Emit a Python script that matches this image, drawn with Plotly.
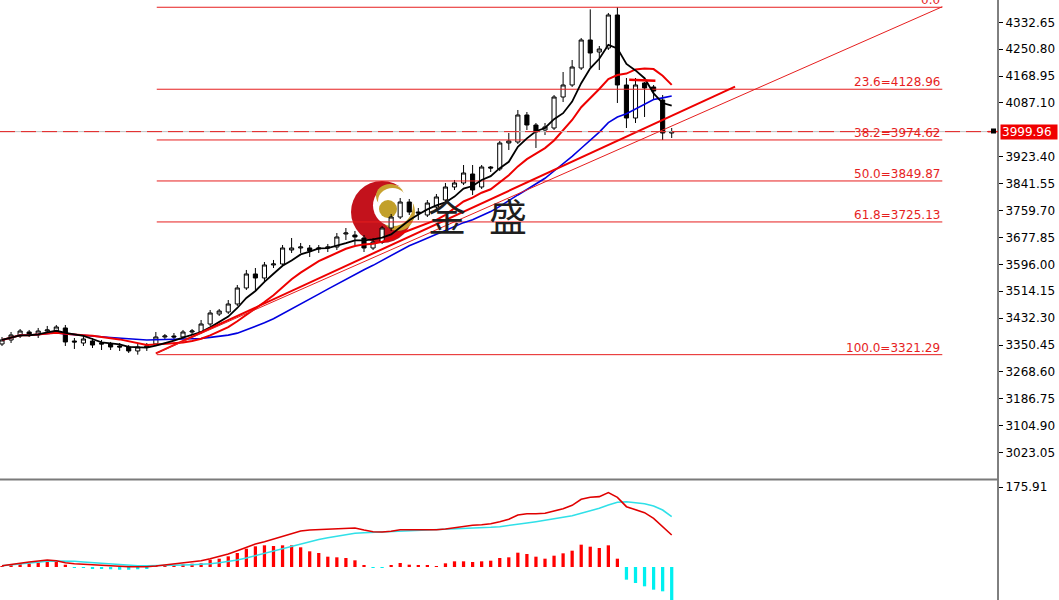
import plotly.graph_objects as go
import pandas as pd

# ---------------- data ----------------
opens = [3353.8, 3366.0, 3378.1, 3390.3, 3381.2, 3393.3, 3393.3, 3402.5, 3362.9, 3356.8,
         3362.9, 3356.8, 3353.8, 3347.7, 3344.6, 3332.5, 3344.6, 3353.8, 3375.1, 3378.1,
         3375.1, 3390.3, 3390.3, 3414.6, 3445.1, 3451.1, 3475.5, 3524.2, 3566.8, 3554.6,
         3594.2, 3597.2, 3639.8, 3645.9, 3645.9, 3642.8, 3645.9, 3648.9, 3688.5, 3685.4,
         3676.3, 3645.9, 3664.1, 3706.7, 3740.2, 3785.8, 3755.4, 3746.3, 3770.6, 3791.9,
         3831.5, 3843.7, 3871.0, 3831.5, 3892.3, 3886.3, 3965.4, 3968.4, 4050.6, 4020.1,
         4004.9, 4011.0, 4105.3, 4141.9, 4193.6, 4278.8, 4242.3, 4254.4, 4354.9, 4141.9,
         4041.4, 4148.0, 4135.8, 4096.2, 3995.8]
highs = [3375.1, 3390.3, 3399.4, 3396.4, 3402.5, 3408.6, 3411.6, 3411.6, 3372.0, 3378.1,
         3372.0, 3366.0, 3359.9, 3356.8, 3350.7, 3353.8, 3356.8, 3390.3, 3384.2, 3387.2,
         3396.4, 3399.4, 3426.8, 3457.2, 3460.3, 3487.6, 3533.3, 3579.0, 3585.0, 3603.3,
         3609.4, 3655.0, 3676.3, 3661.1, 3655.0, 3655.0, 3658.1, 3691.5, 3706.7, 3697.6,
         3685.4, 3676.3, 3712.8, 3749.3, 3798.0, 3795.0, 3767.6, 3791.9, 3810.2, 3843.7,
         3852.8, 3898.4, 3898.4, 3898.4, 3895.3, 3971.5, 3995.8, 4065.8, 4059.7, 4026.2,
         4026.2, 4111.4, 4181.4, 4217.9, 4284.9, 4372.0, 4260.5, 4361.0, 4378.45, 4163.2,
         4163.2, 4151.0, 4141.9, 4111.4, 4011.0]
lows = [3347.7, 3356.8, 3372.0, 3375.1, 3372.0, 3384.2, 3387.2, 3347.7, 3338.6, 3347.7,
        3341.6, 3335.5, 3335.5, 3332.5, 3326.4, 3321.29, 3332.5, 3347.7, 3366.0, 3366.0,
        3369.0, 3381.2, 3384.2, 3408.6, 3439.0, 3445.1, 3469.4, 3518.1, 3518.1, 3542.4,
        3585.0, 3591.1, 3630.7, 3630.7, 3618.5, 3630.7, 3633.7, 3639.8, 3670.2, 3655.0,
        3633.7, 3639.8, 3658.1, 3697.6, 3734.1, 3746.3, 3731.1, 3740.2, 3764.6, 3785.8,
        3822.4, 3837.6, 3807.2, 3825.4, 3877.1, 3880.2, 3944.1, 3962.3, 4004.9, 3950.2,
        3989.7, 4004.9, 4090.1, 4135.8, 4187.5, 4196.6, 4187.5, 4248.4, 4087.1, 4011.0,
        4026.2, 4044.5, 4096.2, 3974.5, 3980.6]
closes = [3366.0, 3381.2, 3393.3, 3381.2, 3393.3, 3396.4, 3405.5, 3359.9, 3359.9, 3369.0,
          3350.7, 3353.8, 3344.6, 3344.6, 3332.5, 3344.6, 3347.7, 3375.1, 3378.1, 3375.1,
          3390.3, 3393.3, 3414.6, 3448.1, 3454.2, 3475.5, 3524.2, 3566.8, 3554.6, 3594.2,
          3597.2, 3645.9, 3645.9, 3648.9, 3636.8, 3645.9, 3648.9, 3679.4, 3691.5, 3679.4,
          3645.9, 3664.1, 3706.7, 3740.2, 3785.8, 3755.4, 3752.4, 3782.8, 3801.1, 3831.5,
          3843.7, 3874.1, 3822.4, 3892.3, 3889.3, 3965.4, 3971.5, 4050.6, 4020.1, 3998.9,
          4014.1, 4105.3, 4141.9, 4196.6, 4278.8, 4239.2, 4251.4, 4354.9, 4141.9, 4041.4,
          4141.9, 4132.7, 4123.6, 3995.8, 3999.96]

macd_main = [2.9, 5.9, 8.8, 11.0, 13.2, 15.4, 13.9, 9.5, 7.3, 5.9,
             4.4, 2.9, 2.2, 1.5, 0.7, 0.0, 0.7, 2.2, 4.4, 6.6,
             8.1, 11.0, 13.9, 18.3, 22.7, 28.6, 35.9, 43.3, 50.6, 55.7,
             61.6, 68.2, 74.1, 79.2, 81.4, 82.1, 82.9, 83.6, 85.1, 85.8,
             81.4, 77.7, 77.0, 78.5, 82.1, 82.1, 81.4, 81.4, 82.1, 83.6,
             86.5, 90.2, 91.7, 93.1, 95.3, 99.7, 104.9, 114.4, 117.3, 117.3,
             118.1, 123.2, 128.3, 135.7, 148.9, 153.3, 154.8, 163.6, 153.3, 132.7,
             126.9, 119.5, 107.1, 88.7, 70.4]
macd_signal = [2.9, 5.1, 7.3, 9.5, 11.0, 12.5, 13.2, 13.2, 12.5, 11.0,
               9.5, 8.1, 6.6, 5.1, 4.4, 2.9, 2.9, 2.9, 2.9, 3.7,
               4.4, 5.1, 5.9, 7.3, 9.5, 11.7, 15.4, 19.8, 24.9, 30.1,
               35.2, 40.9, 46.1, 51.2, 56.3, 60.7, 64.4, 68.1, 71.1, 74.1,
               75.5, 76.3, 77.0, 77.7, 78.5, 79.2, 79.9, 80.7, 81.4, 82.1,
               82.9, 83.6, 85.1, 85.8, 87.3, 88.7, 90.9, 93.9, 96.8, 99.7,
               102.7, 105.6, 109.3, 112.9, 118.1, 123.2, 129.1, 136.4, 142.3, 143.7,
               142.3, 139.3, 134.2, 125.4, 110.8]
macd_hist = [2.0, 3.0, 6.6, 8.1, 9.5, 12.5, 11.0, 5.1, -1.5, -2.2,
             -3.0, -4.0, -5.0, -6.0, -6.0, -5.0, -3.0, 1.5, 2.9, 4.4,
             5.9, 7.3, 8.1, 16.1, 18.3, 23.5, 30.8, 40.3, 45.5, 47.7,
             46.2, 47.7, 47.7, 43.3, 34.5, 30.8, 22.7, 21.3, 19.8, 14.7,
             2.9, -2.2, -2.0, 2.9, 8.8, 5.1, 3.7, 2.9, 1.5, 8.1,
             12.5, 12.5, 11.0, 12.5, 13.9, 19.8, 21.3, 31.5, 28.6, 22.7,
             18.3, 24.9, 30.1, 35.9, 49.1, 44.7, 41.8, 47.7, 18.3, -27.9,
             -35.2, -42.5, -49.9, -53.5, -75.5]

price_ticks = [4332.65, 4250.80, 4168.95, 4087.10, 3923.40, 3841.55, 3759.70,
               3677.85, 3596.00, 3514.15, 3432.30, 3350.45, 3268.60, 3186.75, 3104.90, 3023.05]
macd_ticks = [175.91]

fib_labels = ['0.0', '23.6', '38.2', '50.0', '61.8', '100.0']
fib_values = [4378.45, 4128.96, 3974.62, 3849.87, 3725.13, 3321.29]
fib_x = [17.1, 103.9]

trend_thick_x = [17.0, 81.0]
trend_thick_y = [3325.0, 4137.0]
trend_thin_x = [17.0, 103.9]
trend_thin_y = [3325.0, 4380.0]
mark_x = [69.3, 72.2]
mark_y = [4158.0, 4155.0]

last_price = 3999.96

# ---------------- figure ----------------
W, H = 1059, 600
PW = 998  # plot width in px
RED = 'rgb(230,30,30)'


def px(xp):
    return xp / PW


def py(yp):
    return 1 - yp / H


x = list(range(len(closes)))
s = pd.Series(closes)
ma5 = s.rolling(5, min_periods=1).mean()
ma10 = s.rolling(10, min_periods=1).mean()
ma20 = s.rolling(20, min_periods=1).mean()

fig = go.Figure()
fig.add_trace(go.Candlestick(
    x=x, open=opens, high=highs, low=lows, close=closes,
    increasing=dict(line=dict(color='black', width=1), fillcolor='white'),
    decreasing=dict(line=dict(color='black', width=1), fillcolor='black'),
    whiskerwidth=0, showlegend=False, hoverinfo='skip', xaxis='x', yaxis='y'))

# fib lines
for lab, lv in zip(fib_labels, fib_values):
    fig.add_trace(go.Scatter(x=fib_x, y=[lv, lv], mode='lines',
                             line=dict(color=RED, width=1), showlegend=False, hoverinfo='skip'))
    txt = lab if lab == '0.0' else f'{lab}={lv:.2f}'
    fig.add_annotation(x=fib_x[1], y=lv, xref='x', yref='y', text=txt, showarrow=False,
                       xanchor='right', yanchor='bottom', yshift=-2,
                       font=dict(family='DejaVu Sans', size=12, color=RED))

fig.add_trace(go.Scatter(x=x, y=ma20, mode='lines', line=dict(color='#0000e0', width=1.6),
                         showlegend=False, hoverinfo='skip'))
fig.add_trace(go.Scatter(x=x, y=ma10, mode='lines', line=dict(color='#ee0000', width=2),
                         showlegend=False, hoverinfo='skip'))
fig.add_trace(go.Scatter(x=x, y=ma5, mode='lines', line=dict(color='black', width=1.8),
                         showlegend=False, hoverinfo='skip'))
fig.add_trace(go.Scatter(x=trend_thick_x, y=trend_thick_y, mode='lines',
                         line=dict(color='#ee0000', width=2), showlegend=False, hoverinfo='skip'))
fig.add_trace(go.Scatter(x=trend_thin_x, y=trend_thin_y, mode='lines',
                         line=dict(color=RED, width=1), showlegend=False, hoverinfo='skip'))
fig.add_trace(go.Scatter(x=mark_x, y=mark_y, mode='lines',
                         line=dict(color='#ee0000', width=2.5), showlegend=False, hoverinfo='skip'))

# MACD panel
fig.add_trace(go.Bar(x=x, y=macd_hist, width=0.36,
                     marker=dict(color=['#ff0000' if v >= 0 else '#00f0f0' for v in macd_hist],
                                 line=dict(width=0)),
                     xaxis='x2', yaxis='y2', showlegend=False, hoverinfo='skip'))
fig.add_trace(go.Scatter(x=x, y=macd_signal, mode='lines', line=dict(color='#30e0e8', width=1.6),
                         xaxis='x2', yaxis='y2', showlegend=False, hoverinfo='skip'))
fig.add_trace(go.Scatter(x=x, y=macd_main, mode='lines', line=dict(color='#e00000', width=1.6),
                         xaxis='x2', yaxis='y2', showlegend=False, hoverinfo='skip'))

xr = [-2 / 9.05, 996 / 9.05]
fig.update_layout(
    width=W, height=H, margin=dict(l=0, r=W - PW, t=0, b=0, autoexpand=False),
    paper_bgcolor='white', plot_bgcolor='white', boxgap=0.35,
    xaxis=dict(domain=[0, 1], range=xr, visible=False, rangeslider=dict(visible=False),
               anchor='y'),
    xaxis2=dict(domain=[0, 1], range=xr, visible=False, anchor='y2'),
    yaxis=dict(domain=[1 - 478 / H, 1], range=[2946.0, 4400.5], side='right',
               tickvals=price_ticks, ticktext=[f'{v:.2f}' for v in price_ticks],
               ticks='outside', ticklen=4, tickcolor='black', showgrid=False, zeroline=False,
               showline=False, tickfont=dict(family='DejaVu Sans', size=12, color='black'),
               anchor='x', automargin=False),
    yaxis2=dict(domain=[0, 1 - 481 / H], range=[-72.6, 189.2], side='right',
                tickvals=macd_ticks, ticktext=[f'{v:.2f}' for v in macd_ticks],
                ticks='outside', ticklen=4, tickcolor='black', showgrid=False, zeroline=False,
                showline=False, tickfont=dict(family='DejaVu Sans', size=12, color='black'),
                anchor='x2', automargin=False),
    font=dict(family='DejaVu Sans'),
)

shapes = []
# right axis line and panel separator
shapes.append(dict(type='line', xref='paper', yref='paper', x0=1, x1=1, y0=0, y1=1,
                   line=dict(color='black', width=1)))
shapes.append(dict(type='line', xref='paper', yref='paper', x0=0, x1=1, y0=py(479.5), y1=py(479.5),
                   line=dict(color='#7a7a7a', width=2)))
# bid line (gray) and dashed red price line
shapes.append(dict(type='line', xref='paper', yref='y', x0=0, x1=1, y0=last_price, y1=last_price,
                   line=dict(color='#c0c0c0', width=1)))
shapes.append(dict(type='line', xref='paper', yref='y', x0=0, x1=px(990), y0=last_price, y1=last_price,
                   line=dict(color=RED, width=1, dash='15px,6px')))
shapes.append(dict(type='line', xref='paper', yref='y', x0=px(988), x1=1, y0=last_price, y1=last_price,
                   line=dict(color=RED, width=1.5)))
shapes.append(dict(type='rect', xref='paper', yref='paper', x0=px(991), x1=px(996), y0=py(133.5), y1=py(128.5),
                   line=dict(width=0), fillcolor='black'))


# logo (behind the chart)
def circ(x0, y0, x1, y1, col):
    return dict(type='circle', xref='paper', yref='paper', x0=px(x0), x1=px(x1),
                y0=py(y1), y1=py(y0), fillcolor=col, line=dict(width=0), layer='below')


shapes.append(circ(351, 181, 413, 243, '#c3121c'))
shapes.append(circ(381, 193, 415, 231, '#c9a230'))
shapes.append(circ(373, 185, 413, 226, 'white'))
shapes.append(circ(376, 184, 404, 208, '#c9a230'))
shapes.append(circ(378, 188, 407, 214, 'white'))
shapes.append(circ(379, 200, 397, 218, '#c2a02a'))
fig.update_layout(shapes=shapes)

# price label box
fig.add_annotation(x=px(1000), y=last_price, xref='paper', yref='y', text=f'{last_price:.2f}',
                   showarrow=False, xanchor='left', yanchor='middle', bgcolor='#f00000',
                   width=54, height=12, borderpad=1, align='left',
                   font=dict(family='DejaVu Sans', size=12, color='white'))

# logo text
for ch, cx in [('金', 447), ('盛', 508)]:
    fig.add_annotation(x=px(cx), y=py(214), xref='paper', yref='paper', text=ch, showarrow=False,
                       xanchor='center', yanchor='middle',
                       font=dict(family='Noto Sans CJK SC', size=38, color='#1e1e1e'))

fig.write_html('out.html', config={'displayModeBar': False},
               post_script="document.body.style.margin='0';document.body.style.overflow='hidden';")
